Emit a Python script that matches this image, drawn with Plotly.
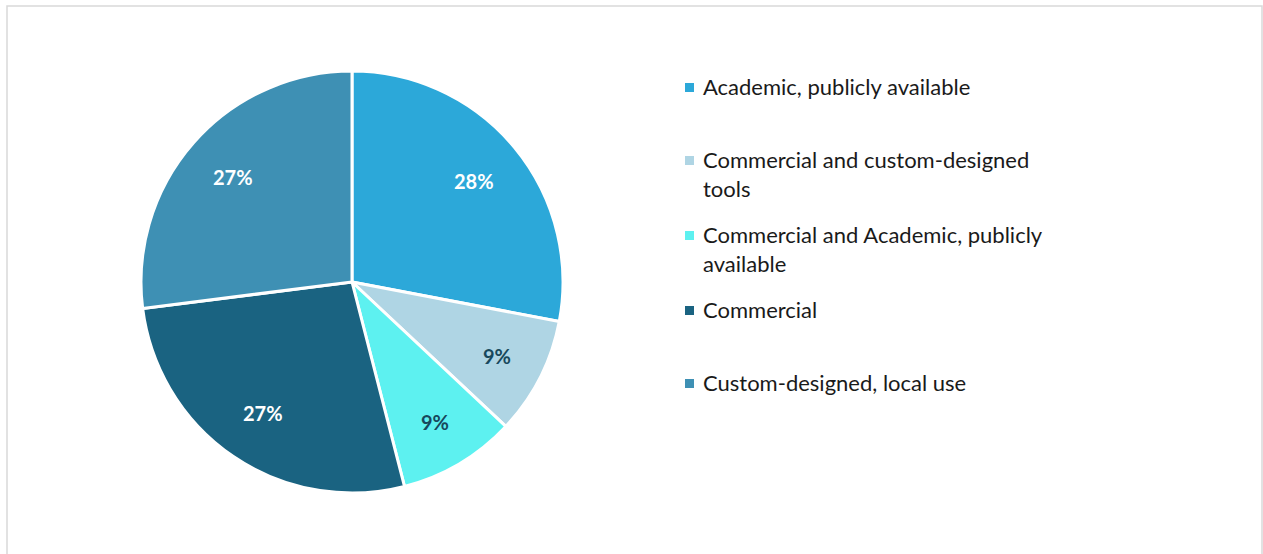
import math
import plotly.graph_objects as go

# Share of tools by source type
categories = [
    "Academic, publicly available",
    "Commercial and custom-designed tools",
    "Commercial and Academic, publicly available",
    "Commercial",
    "Custom-designed, local use",
]
legend_labels = [
    "Academic, publicly available",
    "Commercial and custom-designed<br>tools",
    "Commercial and Academic, publicly<br>available",
    "Commercial",
    "Custom-designed, local use",
]
shares = [28, 9, 9, 27, 27]

colors = ["#2CA8D9", "#AFD5E4", "#5DF1F0", "#1A6381", "#3E90B4"]
label_colors = ["#FFFFFF", "#17485C", "#17485C", "#FFFFFF", "#FFFFFF"]

W, H = 1263, 554
cx, cy, r = 352, 282, 211

fig = go.Figure()
fig.add_trace(go.Pie(
    labels=categories,
    values=shares,
    sort=False,
    direction="clockwise",
    rotation=0,
    marker=dict(colors=colors, line=dict(color="#FFFFFF", width=3)),
    textinfo="none",
    hoverinfo="label+percent",
    showlegend=False,
    domain=dict(x=[(cx - r) / W, (cx + r) / W], y=[1 - (cy + r) / H, 1 - (cy - r) / H]),
))

shapes = [
    # chart area frame
    dict(type="rect", xref="paper", yref="paper",
         x0=7 / W, x1=1262 / W, y0=-0.05, y1=1 - 6 / H,
         line=dict(color="#D9D9D9", width=1.5), fillcolor="rgba(0,0,0,0)", layer="below"),
]
annotations = []

# data labels placed along each slice's middle angle (clockwise from 12 o'clock)
total = sum(shares)
cum = 0
for v, col in zip(shares, label_colors):
    mid = (cum + v / 2) / total * 2 * math.pi
    cum += v
    frac = 0.75 if v / total > 0.15 else 0.77
    px = cx + frac * r * math.sin(mid)
    py = cy - frac * r * math.cos(mid)
    annotations.append(dict(xref="paper", yref="paper", x=px / W, y=1 - py / H,
                            xanchor="center", yanchor="middle", showarrow=False,
                            text=f"<b>{v}%</b>",
                            font=dict(family="Lato", size=20, color=col)))

# legend: swatch + text, first line aligned with the swatch
legend_y = [87, 160, 235, 310, 383]
for name, col, y in zip(legend_labels, colors, legend_y):
    shapes.append(dict(type="rect", xref="paper", yref="paper",
                       x0=685 / W, x1=694 / W, y0=1 - (y + 5) / H, y1=1 - (y - 4) / H,
                       line=dict(width=0), fillcolor=col))
    annotations.append(dict(xref="paper", yref="paper", x=701 / W, y=1 - (y - 16) / H,
                            xanchor="left", yanchor="top", align="left", showarrow=False,
                            text=name, font=dict(family="Lato", size=22, color="#1A1A1A")))

fig.update_layout(
    width=W, height=H,
    margin=dict(l=0, r=0, t=0, b=0),
    paper_bgcolor="#FFFFFF",
    plot_bgcolor="#FFFFFF",
    shapes=shapes,
    annotations=annotations,
)

fig.write_html("out.html")
